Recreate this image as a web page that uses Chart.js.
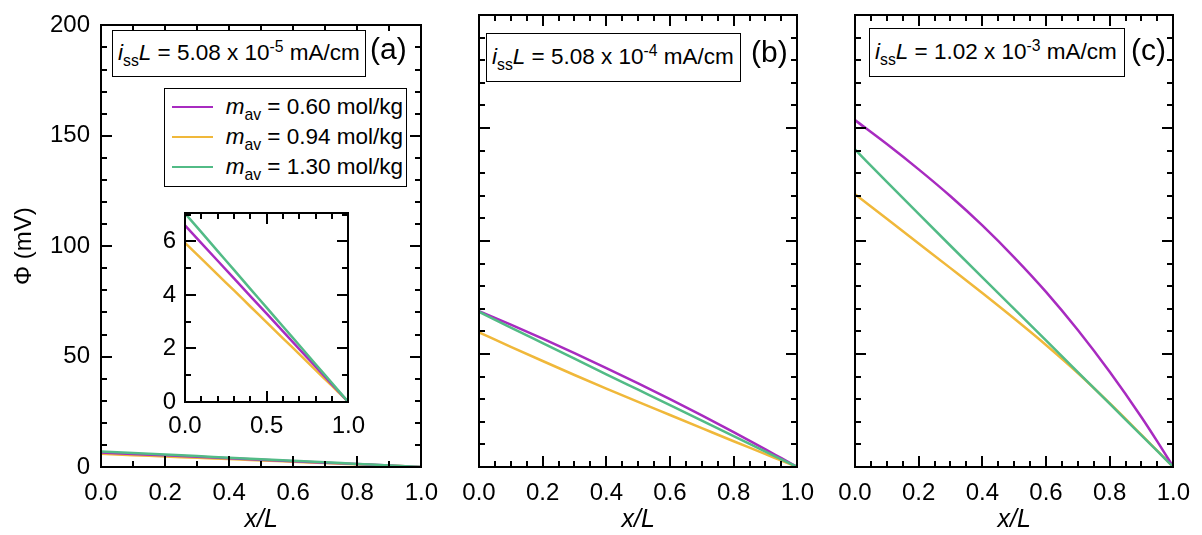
<!DOCTYPE html>
<html>
<head>
<meta charset="utf-8">
<script src="https://cdn.jsdelivr.net/npm/chart.js@4.4.0/dist/chart.umd.min.js"></script>
<style>
  body { margin: 0; background: #fff; width: 1202px; height: 535px; position: relative; overflow: hidden;
         font-family: "Liberation Sans", Arial, sans-serif; color: #000; }
  .pane { position: absolute; top: 0; }
  .note { position: absolute; border: 1.5px solid #000; background: #fff; font-size: 22.5px; box-sizing: border-box;
          padding-left: 5px; white-space: nowrap; }
  .note > span { position: absolute; left: 5px; top: 50%; transform: translateY(-52%); }
  .tag { position: absolute; font-size: 30px; line-height: 1; }
  sub, sup { font-size: 0.7em; line-height: 0; }
  #legend { padding: 3px 3px 0 7px; }
  #legend .row { display: flex; justify-content: space-between; align-items: center; height: 30px; }
  #legend .swatch { display: inline-block; width: 41px; height: 2.5px; }
</style>
</head>
<body>
<div class="pane" style="left:0;width:450px;height:535px"><canvas id="panelA" width="450" height="535"></canvas></div>
<div class="pane" style="left:450px;width:376px;height:535px"><canvas id="panelB" width="376" height="535"></canvas></div>
<div class="pane" style="left:826px;width:376px;height:535px"><canvas id="panelC" width="376" height="535"></canvas></div>
<div class="pane" style="left:150px;top:190px;width:225px;height:250px"><canvas id="inset" width="225" height="250"></canvas></div>

<div class="note" id="noteA" style="left:112px;top:30px;width:254px;height:47px"></div>
<div class="note" id="noteB" style="left:486px;top:33px;width:255px;height:49px"></div>
<div class="note" id="noteC" style="left:869px;top:28px;width:256px;height:49px"></div>
<div class="tag" style="left:370px;top:34px">(a)</div>
<div class="tag" style="left:751px;top:37px">(b)</div>
<div class="tag" style="left:1131px;top:35px">(c)</div>
<div class="note" id="legend" style="left:164px;top:88px;width:243px;height:99px"></div>

<script>
// x/L positions shared by every curve
const xPos = [0, 0.1, 0.2, 0.3, 0.4, 0.5, 0.6, 0.7, 0.8, 0.9, 0.95, 1.0];

// average molality of each series
const massAvg = ['0.60', '0.94', '1.30'];
const lineColors = ['#a82bc0', '#f0b83a', '#52bb86'];
const drawOrder = [1, 2, 0];

// i_ss L for each panel
const issMant = ['5.08', '5.08', '1.02'];
const issExp = ['-5', '-4', '-3'];

// panel (a) and inset, Phi in mV
const a060 = [6.60, 5.94, 5.28, 4.62, 3.96, 3.30, 2.64, 1.98, 1.32, 0.66, 0.33, 0];
const a094 = [5.95, 5.36, 4.76, 4.17, 3.57, 2.98, 2.38, 1.79, 1.19, 0.60, 0.30, 0];
const a130 = [7.05, 6.35, 5.64, 4.94, 4.23, 3.53, 2.82, 2.12, 1.41, 0.71, 0.35, 0];

// panel (b)
const b060 = [69.0, 63.0, 56.8, 50.4, 43.8, 37.0, 30.0, 22.8, 15.4, 7.8, 3.9, 0];
const b094 = [59.6, 53.2, 46.9, 40.7, 34.7, 28.8, 23.0, 17.2, 11.4, 5.7, 2.8, 0];
const b130 = [68.7, 61.7, 54.8, 47.9, 41.0, 34.2, 27.4, 20.5, 13.7, 6.8, 3.4, 0];

// panel (c)
const c060 = [153.5, 142.9, 131.7, 119.8, 106.9, 92.8, 77.5, 60.6, 42.1, 22.0, 11.2, 0];
const c094 = [120.7, 109.8, 98.9, 88.0, 77.0, 65.7, 54.0, 41.6, 28.2, 14.2, 7.1, 0];
const c130 = [140.5, 126.2, 112.0, 97.9, 83.9, 70.0, 56.0, 42.0, 28.0, 14.0, 7.0, 0];

Chart.defaults.font.family = '"Liberation Sans", Arial, sans-serif';
Chart.defaults.font.size = 24;
Chart.defaults.color = '#000';

// box around the plot area with inward ticks on all four sides
function frame(t) {
  return {
    id: 'frame',
    afterDraw(chart) {
      const { ctx, chartArea: a } = chart;
      const sx = chart.scales.x, sy = chart.scales.y;
      const nx = Math.round(sx.max / t.xMinor);
      const ny = Math.floor(sy.max / t.yMinor + 1e-6);
      const every = Math.round(t.xMajor / t.xMinor);
      const everyY = Math.round(t.yMajor / t.yMinor);
      const top = Math.round(a.top), bottom = Math.round(a.bottom);
      const left = Math.round(a.left), right = Math.round(a.right);
      ctx.save();
      ctx.fillStyle = '#000';
      for (let i = 0; i <= nx; i++) {
        const px = Math.round(sx.getPixelForValue(i * t.xMinor));
        const len = i % every === 0 ? 11 : 6;
        ctx.fillRect(px - 1, bottom - len, 2, len);
        ctx.fillRect(px - 1, top, 2, len);
      }
      for (let i = 0; i <= ny; i++) {
        const py = Math.round(sy.getPixelForValue(i * t.yMinor));
        const len = i % everyY === 0 ? 11 : 6;
        ctx.fillRect(left, py - 1, len, 2);
        ctx.fillRect(right - len, py - 1, len, 2);
      }
      ctx.fillRect(left - 1, top - 1, right - left + 2, 2);
      ctx.fillRect(left - 1, bottom - 1, right - left + 2, 2);
      ctx.fillRect(left - 1, top - 1, 2, bottom - top + 2);
      ctx.fillRect(right - 1, top - 1, 2, bottom - top + 2);
      ctx.restore();
    }
  };
}

function datasets(vals) {
  return vals.map((v, i) => ({
    label: 'm_av = ' + massAvg[i] + ' mol/kg',
    data: xPos.map((x, j) => ({ x: x, y: v[j] })),
    borderColor: lineColors[i],
    borderWidth: 2.5,
    pointRadius: 0,
    cubicInterpolationMode: 'monotone',
    order: drawOrder[i]
  }));
}

function panel(id, vals, cfg) {
  return new Chart(document.getElementById(id), {
    type: 'line',
    data: { datasets: datasets(vals) },
    options: {
      responsive: false,
      animation: false,
      events: [],
      layout: { padding: { top: cfg.top, right: cfg.right, left: 0, bottom: 0 } },
      plugins: { legend: { display: false }, tooltip: { enabled: false } },
      scales: {
        x: {
          type: 'linear', min: 0, max: 1,
          grid: { display: false, drawTicks: false },
          border: { display: false },
          ticks: { stepSize: cfg.xStep, padding: cfg.xPad, maxRotation: 0, autoSkip: false,
                   callback: v => v.toFixed(1) },
          title: { display: cfg.xTitle, text: 'x/L', font: { size: 25, style: 'italic' },
                   padding: { top: 0, bottom: 0 } },
          afterFit: s => { s.height = cfg.xH; }
        },
        y: {
          min: 0, max: cfg.yMax,
          grid: { display: false, drawTicks: false },
          border: { display: false },
          ticks: { display: cfg.yLabels, stepSize: cfg.yStep, padding: cfg.yPad },
          afterBuildTicks: s => { s.ticks = s.ticks.filter(k => Math.abs(k.value / cfg.yStep - Math.round(k.value / cfg.yStep)) < 1e-6); },
          title: { display: cfg.yTitle, text: 'Φ (mV)', font: { size: 24 }, padding: { top: 10, bottom: 0 } },
          afterFit: s => { s.width = cfg.yW; }
        }
      }
    },
    plugins: [frame(cfg.frame)]
  });
}

panel('panelA', [a060, a094, a130], {
  top: 15, right: 26, xH: 68, yW: 101, xStep: 0.2, xPad: 12, xTitle: true,
  yMax: 200, yStep: 50, yPad: 11, yLabels: true, yTitle: true,
  frame: { xMajor: 0.2, xMinor: 0.1, yMajor: 50, yMinor: 10 }
});
panel('panelB', [b060, b094, b130], {
  top: 15, right: 25, xH: 68, yW: 29, xStep: 0.2, xPad: 12, xTitle: true,
  yMax: 200, yStep: 50, yPad: 11, yLabels: false, yTitle: false,
  frame: { xMajor: 0.2, xMinor: 0.05, yMajor: 50, yMinor: 10 }
});
panel('panelC', [c060, c094, c130], {
  top: 15, right: 23, xH: 68, yW: 29, xStep: 0.2, xPad: 12, xTitle: true,
  yMax: 200, yStep: 50, yPad: 11, yLabels: false, yTitle: false,
  frame: { xMajor: 0.2, xMinor: 0.05, yMajor: 50, yMinor: 10 }
});
panel('inset', [a060, a094, a130], {
  top: 13, right: 18, xH: 38, yW: 35, xStep: 0.5, xPad: 10, xTitle: false,
  yMax: 7.05, yStep: 2, yPad: 9, yLabels: true, yTitle: false,
  frame: { xMajor: 0.5, xMinor: 0.1, yMajor: 2, yMinor: 1 }
});

// text boxes
['noteA', 'noteB', 'noteC'].forEach((id, i) => {
  document.getElementById(id).innerHTML = '<span><i>i</i><sub>ss</sub><i>L</i> = ' +
    issMant[i] + ' x 10<sup>' + issExp[i] + '</sup> mA/cm</span>';
});

document.getElementById('legend').innerHTML = massAvg.map((m, i) =>
  '<div class="row"><span class="swatch" style="background:' + lineColors[i] + '"></span>' +
  '<span><i>m</i><sub>av</sub> = ' + m + ' mol/kg</span></div>').join('');
</script>
</body>
</html>
